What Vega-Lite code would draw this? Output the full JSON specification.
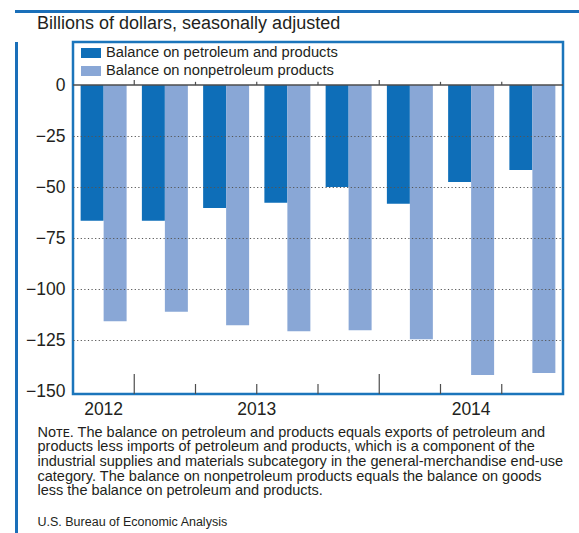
{
  "$schema": "https://vega.github.io/schema/vega-lite/v6.json",
  "padding": {"left": 15, "top": 10, "right": 0, "bottom": 0},
  "background": "white",
  "config": {
    "view": {"stroke": null},
    "font": "Liberation Sans",
    "axis": {"labelFont": "Liberation Sans", "titleFont": "Liberation Sans"},
    "legend": {"labelFont": "Liberation Sans"},
    "title": {"font": "Liberation Sans"}
  },
  "spacing": 0,
  "vconcat": [
    {
      "width": 580,
      "height": 3,
      "view": {"fill": "#1a6fb9", "stroke": null},
      "data": {"values": []},
      "mark": "rect"
    },
    {
      "spacing": 6,
      "hconcat": [
        {
          "width": 3,
          "height": 530,
          "view": {"fill": "#1a6fb9", "stroke": null},
          "data": {"values": []},
          "mark": "rect"
        },
        {
          "width": 490,
          "height": 352,
          "view": {"stroke": "#1b75bb", "strokeWidth": 2.5, "fill": "white"},
          "title": {
            "text": "Billions of dollars, seasonally adjusted",
            "anchor": "start",
            "frame": "group",
            "dx": -36,
            "offset": 9,
            "fontSize": 18,
            "fontWeight": "normal",
            "color": "#231f20"
          },
          "data": {
            "values": [
              {"quarter": "2012 Q4", "series": "Balance on petroleum and products", "value": -66.4},
              {"quarter": "2012 Q4", "series": "Balance on nonpetroleum products", "value": -115.6},
              {"quarter": "2013 Q1", "series": "Balance on petroleum and products", "value": -66.4},
              {"quarter": "2013 Q1", "series": "Balance on nonpetroleum products", "value": -111.0},
              {"quarter": "2013 Q2", "series": "Balance on petroleum and products", "value": -60.1},
              {"quarter": "2013 Q2", "series": "Balance on nonpetroleum products", "value": -117.5},
              {"quarter": "2013 Q3", "series": "Balance on petroleum and products", "value": -57.6},
              {"quarter": "2013 Q3", "series": "Balance on nonpetroleum products", "value": -120.5},
              {"quarter": "2013 Q4", "series": "Balance on petroleum and products", "value": -49.9},
              {"quarter": "2013 Q4", "series": "Balance on nonpetroleum products", "value": -120.0},
              {"quarter": "2014 Q1", "series": "Balance on petroleum and products", "value": -58.1},
              {"quarter": "2014 Q1", "series": "Balance on nonpetroleum products", "value": -124.4},
              {"quarter": "2014 Q2", "series": "Balance on petroleum and products", "value": -47.4},
              {"quarter": "2014 Q2", "series": "Balance on nonpetroleum products", "value": -141.9},
              {"quarter": "2014 Q3", "series": "Balance on petroleum and products", "value": -41.5},
              {"quarter": "2014 Q3", "series": "Balance on nonpetroleum products", "value": -140.9}
            ]
          },
          "layer": [
            {
              "mark": {"type": "bar"},
              "encoding": {
                "x": {
                  "field": "quarter",
                  "type": "nominal",
                  "sort": null,
                  "scale": {"paddingInner": 0, "paddingOuter": 0},
                  "axis": {
                    "values": ["2012 Q4", "2013 Q2", "2014 Q2"],
                    "bandPosition": 0.5,
                    "labelExpr": "substring(datum.value, 0, 4)",
                    "labelOffset": {"condition": {"test": "datum.value == '2013 Q2'", "value": 30.6}, "value": 0},
                    "labelAngle": 0,
                    "labelPadding": 6,
                    "labelFontSize": 17.5,
                    "labelColor": "#231f20",
                    "ticks": false,
                    "tickSize": 0,
                    "domain": false,
                    "grid": false,
                    "title": [
                      "Nᴏᴛᴇ. The balance on petroleum and products equals exports of petroleum and",
                      "products less imports of petroleum and products, which is a component of the",
                      "industrial supplies and materials subcategory in the general-merchandise end-use",
                      "category. The balance on nonpetroleum products equals the balance on goods",
                      "less the balance on petroleum and products."
                    ],
                    "titleX": -36,
                    "titleY": 31,
                    "titleAlign": "left",
                    "titleAnchor": "start",
                    "titleBaseline": "top",
                    "titleFontSize": 14.5,
                    "titleLineHeight": 14.7,
                    "titleFontWeight": "normal",
                    "titleColor": "#231f20"
                  }
                },
                "xOffset": {
                  "field": "series",
                  "type": "nominal",
                  "sort": ["Balance on petroleum and products", "Balance on nonpetroleum products"],
                  "scale": {"paddingInner": 0, "paddingOuter": 0.332}
                },
                "y": {
                  "field": "value",
                  "type": "quantitative",
                  "stack": null,
                  "scale": {"domain": [-151.2, 21.1], "nice": false, "zero": false},
                  "axis": {
                    "values": [0, -25, -50, -75, -100, -125, -150],
                    "domain": false,
                    "ticks": false,
                    "tickSize": 0,
                    "labelPadding": 8,
                    "labelFontSize": 17.5,
                    "labelColor": "#231f20",
                    "grid": true,
                    "gridDash": [1.2, 2.4],
                    "gridColor": "#555555",
                    "gridWidth": 1,
                    "gridOpacity": {"condition": {"test": "datum.value <= -150 || datum.value >= 0", "value": 0}, "value": 1},
                    "zindex": 1,
                    "title": "U.S. Bureau of Economic Analysis",
                    "titleX": -36,
                    "titleY": 479,
                    "titleAngle": 0,
                    "titleAlign": "left",
                    "titleBaseline": "middle",
                    "titleFontSize": 12.5,
                    "titleFontWeight": "normal",
                    "titleColor": "#231f20"
                  }
                },
                "color": {
                  "field": "series",
                  "type": "nominal",
                  "sort": ["Balance on petroleum and products", "Balance on nonpetroleum products"],
                  "scale": {
                    "domain": ["Balance on petroleum and products", "Balance on nonpetroleum products"],
                    "range": ["#0e6eb8", "#89a7d6"]
                  },
                  "legend": {
                    "orient": "none",
                    "legendX": 66,
                    "legendY": 33,
                    "title": null,
                    "symbolType": "M-1,-0.5H1V0.5H-1Z",
                    "symbolSize": 400,
                    "symbolStrokeWidth": 0,
                    "symbolOpacity": 1,
                    "labelFontSize": 14.7,
                    "labelOffset": 5,
                    "labelLimit": 400,
                    "labelColor": "#231f20",
                    "rowPadding": 1,
                    "padding": 0
                  }
                }
              }
            },
            {
              "data": {"values": [{}]},
              "mark": {"type": "rule", "color": "#4d4d4d", "strokeWidth": 1.5},
              "encoding": {"y": {"datum": 0}}
            },
            {
              "transform": [
                {"filter": "datum.series === 'Balance on petroleum and products' && datum.quarter !== '2012 Q4' && indexof(datum.quarter, 'Q1') < 0"}
              ],
              "mark": {"type": "rule", "color": "#4d4d4d", "strokeWidth": 1.2},
              "encoding": {
                "x": {"field": "quarter", "type": "nominal", "sort": null, "bandPosition": 0},
                "y": {"datum": -151.2},
                "y2": {"datum": -146.3}
              }
            },
            {
              "transform": [
                {"filter": "datum.series === 'Balance on petroleum and products' && indexof(datum.quarter, 'Q1') > 0"}
              ],
              "mark": {"type": "rule", "color": "#4d4d4d", "strokeWidth": 1.2},
              "encoding": {
                "x": {"field": "quarter", "type": "nominal", "sort": null, "bandPosition": 0},
                "y": {"datum": -151.2},
                "y2": {"datum": -141.4}
              }
            },
            {
              "transform": [
                {"filter": "datum.series === 'Balance on petroleum and products' && datum.quarter !== '2012 Q4' && indexof(datum.quarter, 'Q1') < 0"}
              ],
              "mark": {"type": "rule", "color": "#4d4d4d", "strokeWidth": 1.2},
              "encoding": {
                "x": {"field": "quarter", "type": "nominal", "sort": null, "bandPosition": 0},
                "y": {"datum": 0},
                "y2": {"datum": 1.6}
              }
            },
            {
              "transform": [
                {"filter": "datum.series === 'Balance on petroleum and products' && indexof(datum.quarter, 'Q1') > 0"}
              ],
              "mark": {"type": "rule", "color": "#4d4d4d", "strokeWidth": 1.2},
              "encoding": {
                "x": {"field": "quarter", "type": "nominal", "sort": null, "bandPosition": 0},
                "y": {"datum": 0},
                "y2": {"datum": 2.5}
              }
            }
          ]
        }
      ]
    }
  ]
}
